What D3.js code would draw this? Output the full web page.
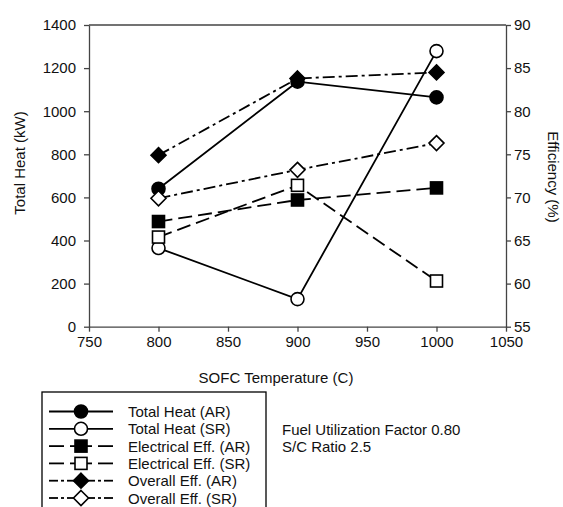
<!DOCTYPE html>
<html>
<head>
<meta charset="utf-8">
<script src="https://cdn.jsdelivr.net/npm/d3@7"></script>
<style>
    body { margin: 0; background: #fff; }
    svg text { font-family: Arial, "Liberation Sans", sans-serif; fill: #111; }
    .axis path, .axis line { stroke: #444; stroke-width: 1.3; }
    .axis text { font-size: 15px; }
</style>
</head>
<body>
<svg id="chart"></svg>
<script>
// SOFC temperature (C)
const temps = [800, 900, 1000];
// Total heat (kW) - left axis
const totalHeatAR = [640, 1137, 1064];
const totalHeatSR = [365, 128, 1279];
// Efficiency (%) - right axis
const elecEffAR = [67.2, 69.7, 71.1];
const elecEffSR = [65.4, 71.4, 60.3];
const overallEffAR = [74.9, 83.8, 84.5];
const overallEffSR = [69.9, 73.2, 76.3];

const xTicks = [750, 800, 850, 900, 950, 1000, 1050];
const yLeftTicks = [0, 200, 400, 600, 800, 1000, 1200, 1400];
const yRightTicks = [55, 60, 65, 70, 75, 80, 85, 90];

const legendLabels = ["Total Heat (AR)", "Total Heat (SR)", "Electrical Eff. (AR)",
    "Electrical Eff. (SR)", "Overall Eff. (AR)", "Overall Eff. (SR)"];
const notes = ["Fuel Utilization Factor 0.80", "S/C Ratio 2.5"];

const width = 563, height = 507;
const plot = { left: 89, right: 506, top: 25, bottom: 326.7 };

const svg = d3.select("#chart").attr("width", width).attr("height", height);

const x = d3.scaleLinear().domain([750, 1050]).range([plot.left, plot.right]);
const yL = d3.scaleLinear().domain([0, 1400]).range([plot.bottom, plot.top]);
const yR = d3.scaleLinear().domain([55, 90]).range([plot.bottom, plot.top]);

// frame (top line)
svg.append("line")
    .attr("x1", plot.left).attr("x2", plot.right)
    .attr("y1", plot.top).attr("y2", plot.top)
    .attr("stroke", "#444").attr("stroke-width", 1.3);

// axes
svg.append("g").attr("class", "axis")
    .attr("transform", `translate(0,${plot.bottom})`)
    .call(d3.axisBottom(x).tickValues(xTicks).tickFormat(d3.format("d")).tickSizeInner(5).tickSizeOuter(0).tickPadding(5));

svg.append("g").attr("class", "axis")
    .attr("transform", `translate(${plot.left},0)`)
    .call(d3.axisLeft(yL).tickValues(yLeftTicks).tickFormat(d3.format("d")).tickSizeInner(5).tickSizeOuter(0).tickPadding(8));

svg.append("g").attr("class", "axis")
    .attr("transform", `translate(${plot.right},0)`)
    .call(d3.axisRight(yR).tickValues(yRightTicks).tickSizeInner(5).tickSizeOuter(0).tickPadding(3));

svg.selectAll(".axis text").attr("fill", "#111");

// axis titles
svg.append("text")
    .attr("x", 276).attr("y", 383)
    .attr("text-anchor", "middle")
    .style("font-size", "15px")
    .text("SOFC Temperature (C)");

svg.append("text")
    .attr("transform", "rotate(-90)")
    .attr("x", -163).attr("y", 25)
    .attr("text-anchor", "middle")
    .style("font-size", "15px")
    .text("Total Heat (kW)");

svg.append("text")
    .attr("transform", "rotate(90)")
    .attr("x", 177).attr("y", -548)
    .attr("text-anchor", "middle")
    .style("font-size", "15px")
    .text("Efficiency (%)");

// series
const solid = null, dashed = "14,6", dashDot = "12,4,3,4";
const series = [
    { vals: totalHeatAR, y: yL, dash: solid, shape: "circle", fill: "#000" },
    { vals: totalHeatSR, y: yL, dash: solid, shape: "circle", fill: "#fff" },
    { vals: elecEffAR, y: yR, dash: dashed, shape: "square", fill: "#000" },
    { vals: elecEffSR, y: yR, dash: dashed, shape: "square", fill: "#fff" },
    { vals: overallEffAR, y: yR, dash: dashDot, shape: "diamond", fill: "#000" },
    { vals: overallEffSR, y: yR, dash: dashDot, shape: "diamond", fill: "#fff" }
];

function drawMarker(g, shape, fill, cx, cy) {
    if (shape === "circle") {
        g.append("circle").attr("cx", cx).attr("cy", cy).attr("r", 6.5)
            .attr("fill", fill).attr("stroke", "#000").attr("stroke-width", 1.6);
    } else if (shape === "square") {
        g.append("rect").attr("x", cx - 6).attr("y", cy - 6).attr("width", 12).attr("height", 12)
            .attr("fill", fill).attr("stroke", "#000").attr("stroke-width", 1.6);
    } else {
        const r = 7.5;
        g.append("path").attr("d", `M${cx},${cy - r}L${cx + r},${cy}L${cx},${cy + r}L${cx - r},${cy}Z`)
            .attr("fill", fill).attr("stroke", "#000").attr("stroke-width", 1.6);
    }
}

const line = d3.line();
series.forEach(s => {
    const pts = temps.map((t, i) => [x(t), s.y(s.vals[i])]);
    const g = svg.append("g");
    g.append("path")
        .attr("d", line(pts))
        .attr("fill", "none")
        .attr("stroke", "#000")
        .attr("stroke-width", 1.8)
        .attr("stroke-dasharray", s.dash);
    pts.forEach(p => drawMarker(g, s.shape, s.fill, p[0], p[1]));
});

// legend
const legend = svg.append("g");
legend.append("rect")
    .attr("x", 42).attr("y", 392).attr("width", 224).attr("height", 130)
    .attr("fill", "none").attr("stroke", "#000").attr("stroke-width", 1.3);

series.forEach((s, i) => {
    const ly = 411.5 + i * 17.3;
    const g = legend.append("g");
    if (s.dash === null) {
        g.append("line").attr("x1", 49).attr("x2", 113).attr("y1", ly).attr("y2", ly)
            .attr("stroke", "#000").attr("stroke-width", 1.8);
    } else if (s.dash === dashed) {
        [[49, 64], [98, 113]].forEach(d => g.append("line").attr("x1", d[0]).attr("x2", d[1])
            .attr("y1", ly).attr("y2", ly).attr("stroke", "#000").attr("stroke-width", 1.8));
        g.append("line").attr("x1", 70).attr("x2", 92).attr("y1", ly).attr("y2", ly)
            .attr("stroke", "#000").attr("stroke-width", 1.8);
    } else {
        [[49, 58], [104, 113]].forEach(d => g.append("line").attr("x1", d[0]).attr("x2", d[1])
            .attr("y1", ly).attr("y2", ly).attr("stroke", "#000").attr("stroke-width", 1.8));
        [[61, 64], [98, 101]].forEach(d => g.append("line").attr("x1", d[0]).attr("x2", d[1])
            .attr("y1", ly).attr("y2", ly).attr("stroke", "#000").attr("stroke-width", 1.8));
        g.append("line").attr("x1", 67).attr("x2", 95).attr("y1", ly).attr("y2", ly)
            .attr("stroke", "#000").attr("stroke-width", 1.8);
    }
    drawMarker(g, s.shape, s.fill, 81, ly);
    g.append("text").attr("x", 128).attr("y", ly + 5.5)
        .style("font-size", "15px").text(legendLabels[i]);
});

notes.forEach((t, i) => {
    svg.append("text").attr("x", 282).attr("y", 434.5 + i * 17.3)
        .style("font-size", "15px").text(t);
});
</script>
</body>
</html>
